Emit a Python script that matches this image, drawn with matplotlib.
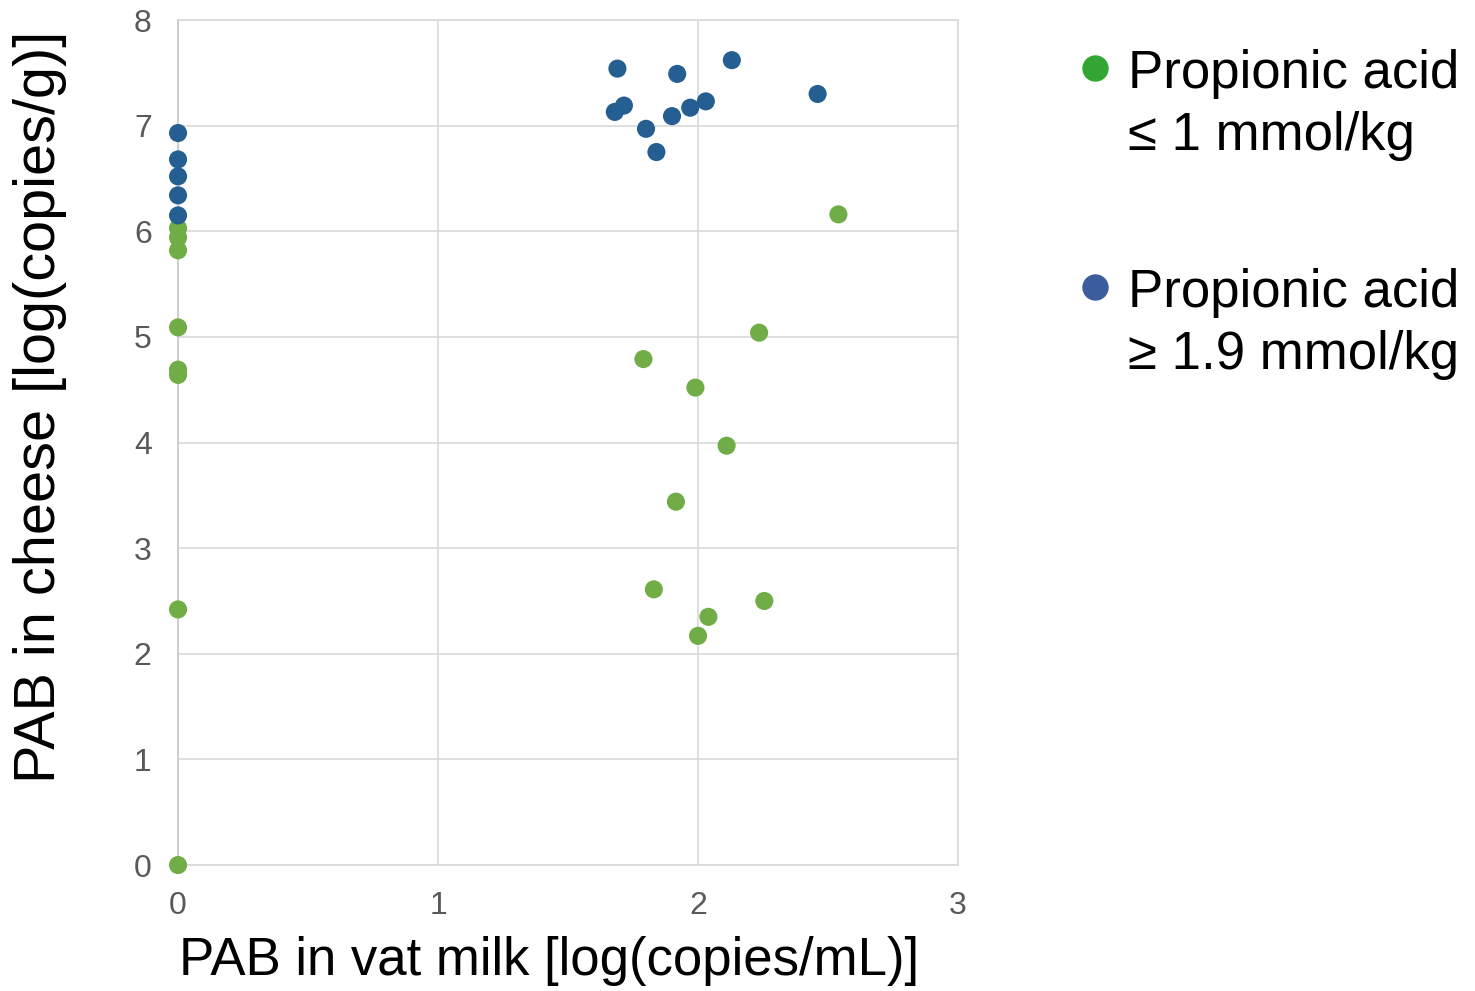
import matplotlib
matplotlib.use("Agg")
import matplotlib.pyplot as plt
from matplotlib.lines import Line2D

plt.rcParams["font.family"] = ["Liberation Sans", "DejaVu Sans"]

# propionic acid >= 1.9 mmol/kg (blue)
high_x = [0, 0, 0, 0, 0,
          1.69, 1.92, 2.13, 2.46, 1.68, 1.715, 1.80, 1.84, 1.90, 1.97, 2.03]
high_y = [6.93, 6.68, 6.52, 6.34, 6.15,
          7.54, 7.49, 7.62, 7.30, 7.13, 7.19, 6.97, 6.75, 7.09, 7.17, 7.23]

# propionic acid <= 1 mmol/kg (green)
low_x = [0, 0, 0, 0, 0, 0, 0, 0,
         2.54, 2.235, 1.79, 1.99, 2.11, 1.915, 1.83, 2.255, 2.04, 2.00]
low_y = [6.03, 5.94, 5.82, 5.09, 4.69, 4.64, 2.42, 0.0,
         6.16, 5.04, 4.79, 4.52, 3.97, 3.44, 2.61, 2.50, 2.35, 2.17]

x_ticks = [0, 1, 2, 3]
y_ticks = [0, 1, 2, 3, 4, 5, 6, 7, 8]

legend_lines = [("Propionic acid", "\u2264 1 mmol/kg"),
                ("Propionic acid", "\u2265 1.9 mmol/kg")]

fig = plt.figure(figsize=(14.75, 9.91), dpi=100)
ax = fig.add_axes([0.1207, 0.1271, 0.5288, 0.8527])

ax.scatter(low_x, low_y, s=170, color="#70ad47", edgecolors="none", zorder=3, clip_on=False)
ax.scatter(high_x, high_y, s=170, color="#255e91", edgecolors="none", zorder=3, clip_on=False)

ax.set_xlim(0, 3)
ax.set_ylim(0, 8)
ax.set_xticks(x_ticks)
ax.set_yticks(y_ticks)
ax.grid(True, color="#d9d9d9", linewidth=1.2, zorder=0)
ax.set_axisbelow(True)
for s in ax.spines.values():
    s.set_color("#d9d9d9")
    s.set_linewidth(1.2)
ax.spines["left"].set_color("#c8c8c8")
ax.tick_params(length=0, labelsize=23, labelcolor="#595959")
ax.tick_params(axis="y", pad=19)
ax.tick_params(axis="x", pad=19)

ax.set_xlabel("PAB in vat milk [log(copies/mL)]", fontsize=38)
ax.xaxis.label.set_va("baseline")
ax.xaxis.set_label_coords(0.476, -0.1302)
ax.set_ylabel("PAB in cheese [log(copies/g)]", fontsize=41.5)
ax.yaxis.label.set_va("baseline")
ax.yaxis.label.set_rotation_mode("anchor")
ax.yaxis.set_label_coords(-0.1577, 0.542)

# legend drawn by hand: marker next to first line of a two-line label
leg_colors = ["#33a532", "#3a5d9c"]
marker_y = [0.9314, 0.7104]
base_y = [(0.9112, 0.8486), (0.6902, 0.6276)]
for (l1, l2), col, my, (b1, b2) in zip(legend_lines, leg_colors, marker_y, base_y):
    fig.add_artist(Line2D([0.7424], [my], marker="o", markersize=18, color=col,
                          linestyle="none", transform=fig.transFigure))
    fig.text(0.7647, b1, l1, fontsize=38, va="baseline", ha="left", color="black")
    fig.text(0.7647, b2, l2, fontsize=38, va="baseline", ha="left", color="black")

fig.savefig("out.png", dpi=100)
